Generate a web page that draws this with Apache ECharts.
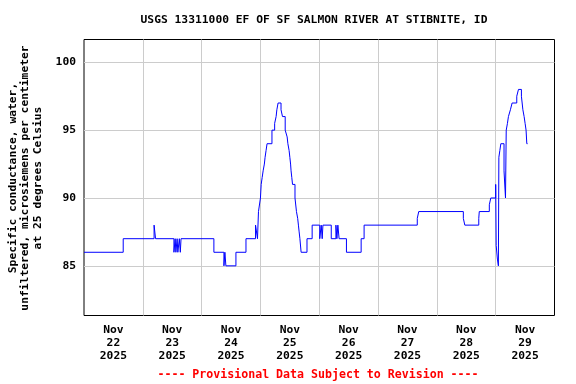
<!DOCTYPE html>
<html>
<head>
<meta charset="utf-8">
<script src="https://cdn.jsdelivr.net/npm/echarts@6/dist/echarts.min.js"></script>
<style>html,body{margin:0;padding:0;background:#fff}#c{width:576px;height:384px}</style>
</head>
<body>
<div id="c"></div>
<script>
const titleText = 'USGS 13311000 EF OF SF SALMON RIVER AT STIBNITE, ID';
const yAxisTitle = ['Specific conductance, water,', 'unfiltered, microsiemens per centimeter', 'at 25 degrees Celsius'];
const footerText = '---- Provisional Data Subject to Revision ----';
const yTicks = [85, 90, 95, 100];
const labelDays = ['2025-11-22','2025-11-23','2025-11-24','2025-11-25','2025-11-26','2025-11-27','2025-11-28','2025-11-29'];
const gridDays = ['2025-11-23','2025-11-24','2025-11-25','2025-11-26','2025-11-27','2025-11-28','2025-11-29'];
const xStart = '2025-11-22 00:00';
const xEnd = '2025-11-30 00:00';

const times = [
'2025-11-22 00:00','2025-11-22 16:00','2025-11-23 04:36','2025-11-23 05:12','2025-11-23 12:42','2025-11-23 13:12',
'2025-11-23 13:30','2025-11-23 14:00','2025-11-23 14:18','2025-11-23 14:54','2025-11-23 15:18','2025-11-23 15:36',
'2025-11-24 05:00','2025-11-24 09:06','2025-11-24 09:30','2025-11-24 09:54','2025-11-24 14:00','2025-11-24 18:06',
'2025-11-24 22:00','2025-11-24 22:48','2025-11-24 23:12','2025-11-25 00:00','2025-11-25 00:18','2025-11-25 00:42',
'2025-11-25 01:06','2025-11-25 01:36','2025-11-25 01:54','2025-11-25 02:18','2025-11-25 02:42','2025-11-25 04:42',
'2025-11-25 05:48','2025-11-25 06:24','2025-11-25 06:42','2025-11-25 07:12','2025-11-25 08:24','2025-11-25 09:00',
'2025-11-25 10:06','2025-11-25 10:54','2025-11-25 11:12','2025-11-25 11:42','2025-11-25 12:00','2025-11-25 12:18',
'2025-11-25 12:30','2025-11-25 12:48','2025-11-25 13:06','2025-11-25 14:06','2025-11-25 14:42','2025-11-25 15:12',
'2025-11-25 15:30','2025-11-25 15:48','2025-11-25 16:06','2025-11-25 16:36','2025-11-25 19:00','2025-11-25 21:06',
'2025-11-26 00:12','2025-11-26 00:48','2025-11-26 01:12','2025-11-26 01:30','2025-11-26 04:54','2025-11-26 06:48',
'2025-11-26 07:12','2025-11-26 07:36','2025-11-26 08:06','2025-11-26 11:06','2025-11-26 17:06','2025-11-26 18:18',
'2025-11-27 16:00','2025-11-27 16:36','2025-11-28 10:48','2025-11-28 11:24','2025-11-28 17:06','2025-11-28 17:18',
'2025-11-28 21:24','2025-11-28 22:00','2025-11-29 00:00','2025-11-29 00:12','2025-11-29 00:42','2025-11-29 01:06',
'2025-11-29 01:18','2025-11-29 01:42','2025-11-29 02:06','2025-11-29 03:24','2025-11-29 04:00','2025-11-29 04:18',
'2025-11-29 04:48','2025-11-29 05:12','2025-11-29 06:00','2025-11-29 06:42','2025-11-29 08:36','2025-11-29 09:18',
'2025-11-29 10:30','2025-11-29 11:06','2025-11-29 11:36','2025-11-29 12:00','2025-11-29 12:24','2025-11-29 12:42',
'2025-11-29 13:00'
];
const values = [
86,87,88,87,86,87,
86,87,86,87,86,87,
86,85,86,85,86,87,
88,87,89,90,91,91.5,
92,92.5,93,93.5,94,95,
95.5,96,96.5,97,96.5,96,
95,94.5,94,93.5,93,92.5,
92,91.5,91,90,89,88.5,
88,87.5,87,86,87,88,
87,88,87,88,87,88,
87,88,87,86,87,88,
88.5,89,88.5,88,88.5,89,
89.5,90,91,86.5,85.5,85,
93,93.5,94,92,90,95,
95.5,96,96.5,97,97.5,98,
97.5,96.5,96,95.5,95,94,
94
];

const FONT = '"DejaVu Sans Mono", monospace';
const ts = s => new Date(s.replace(' ', 'T') + (s.length === 10 ? 'T00:00:00' : ':00')).getTime();
const chart = echarts.init(document.getElementById('c'), null, {renderer: 'canvas'});
const noonTs = labelDays.map(d => ts(d) + 12 * 3600e3);
const midTs = gridDays.map(d => ts(d));
const MONTHS = ['Jan','Feb','Mar','Apr','May','Jun','Jul','Aug','Sep','Oct','Nov','Dec'];

chart.setOption({
  animation: false,
  backgroundColor: '#fff',
  grid: {left: 84, top: 39.5, right: 21.5, bottom: 68.5, show: true, borderColor: '#000', borderWidth: 1, backgroundColor: 'transparent'},
  xAxis: {
    type: 'value',
    min: ts(xStart), max: ts(xEnd),
    axisLine: {show: false},
    axisTick: {show: false, customValues: midTs},
    splitLine: {show: true, lineStyle: {color: '#cccccc', width: 1}},
    axisLabel: {
      customValues: noonTs,
      formatter: v => { const d = new Date(v); return MONTHS[d.getMonth()] + '\n' + d.getDate() + '\n' + d.getFullYear(); },
      fontFamily: FONT, fontWeight: 'bold', fontSize: 11.3, color: '#000', lineHeight: 13, margin: 8,
      hideOverlap: false
    }
  },
  yAxis: {
    type: 'value',
    min: 81.34, max: 101.68,
    axisLine: {show: false},
    axisTick: {show: false, customValues: yTicks},
    splitLine: {show: true, lineStyle: {color: '#cccccc', width: 1}},
    axisLabel: {customValues: yTicks, fontFamily: FONT, fontWeight: 'bold', fontSize: 11.3, color: '#000', margin: 8}
  },
  graphic: [
    {type: 'text', x: 314, y: 20, style: {text: titleText, fontFamily: FONT, fontWeight: 'bold', fontSize: 11.3, fill: '#000', textAlign: 'center', textVerticalAlign: 'middle'}},
    {type: 'text', x: 318, y: 375, style: {text: footerText, fontFamily: FONT, fontWeight: 'bold', fontSize: 11.6, fill: '#ff0000', textAlign: 'center', textVerticalAlign: 'middle'}},
    {type: 'text', x: 25.5, y: 178, rotation: Math.PI / 2, style: {text: yAxisTitle.join('\n'), fontFamily: FONT, fontWeight: 'bold', fontSize: 11.3, lineHeight: 12.8, fill: '#000', textAlign: 'center', textVerticalAlign: 'middle'}}
  ],
  series: [{
    type: 'line',
    step: 'end',
    showSymbol: false,
    symbol: 'none',
    lineStyle: {color: '#0000ff', width: 1},
    data: times.map((t, i) => [ts(t), values[i]])
  }]
});
</script>
</body>
</html>
